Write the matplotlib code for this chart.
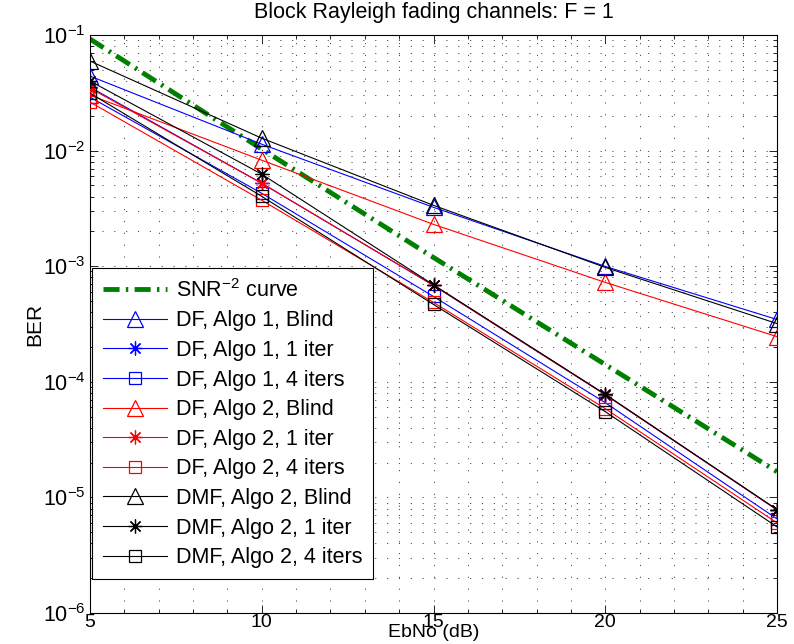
import numpy as np
import matplotlib
matplotlib.use("Agg")
import matplotlib.pyplot as plt
from matplotlib.ticker import LogLocator, MultipleLocator, NullFormatter

plt.rcParams['font.family'] = ['Liberation Sans', 'DejaVu Sans']
plt.rcParams['mathtext.fontset'] = 'custom'
plt.rcParams['mathtext.rm'] = 'Liberation Sans'
plt.rcParams['mathtext.it'] = 'Liberation Sans:italic'
plt.rcParams['mathtext.bf'] = 'Liberation Sans:bold'

# ---------------- data ----------------
ebno = [5, 10, 15, 20, 25]

snr_curve = [0.0923, 0.0103, 0.00119, 1.41e-4, 1.67e-5]

df1_blind = [0.0441, 0.01136, 0.00323, 9.96e-4, 3.46e-4]
df1_1iter = [0.0354, 0.00522, 6.82e-4, 7.74e-5, 7.81e-6]
df1_4iter = [0.0290, 0.00427, 5.47e-4, 6.60e-5, 6.52e-6]

df2_blind = [0.0302, 0.00826, 0.00230, 7.24e-4, 2.46e-4]
df2_1iter = [0.0347, 0.00522, 6.82e-4, 7.74e-5, 7.81e-6]
df2_4iter = [0.0263, 0.00372, 4.86e-4, 5.86e-5, 6.02e-6]

dmf_blind = [0.0595, 0.0128, 0.00336, 9.76e-4, 3.19e-4]
dmf_1iter = [0.0400, 0.00625, 6.90e-4, 7.80e-5, 7.85e-6]
dmf_4iter = [0.0314, 0.00402, 4.67e-4, 5.52e-5, 5.56e-6]

labels = ['DF, Algo 1, Blind', 'DF, Algo 1, 1 iter', 'DF, Algo 1, 4 iters',
          'DF, Algo 2, Blind', 'DF, Algo 2, 1 iter', 'DF, Algo 2, 4 iters',
          'DMF, Algo 2, Blind', 'DMF, Algo 2, 1 iter', 'DMF, Algo 2, 4 iters']
series = [df1_blind, df1_1iter, df1_4iter,
          df2_blind, df2_1iter, df2_4iter,
          dmf_blind, dmf_1iter, dmf_4iter]
colors = ['#0000ff'] * 3 + ['#ff0000'] * 3 + ['#000000'] * 3
star = (8, 2, 0)
markers = ['^', star, 's'] * 3
msizes = [11, 10, 8] * 3

# ---------------- figure ----------------
fig = plt.figure(figsize=(7.94, 6.44), dpi=100)
ax = fig.add_axes([90 / 794, 1 - 613 / 644, 687 / 794, 578 / 644])

ax.plot(ebno, snr_curve, color='#008000', lw=3.5,
        linestyle=(0, (3.3, 1.3, 0.5, 1.3)),
        label=r'SNR$^{-2}$ curve', zorder=2)
for y, lab, c, m, ms in zip(series, labels, colors, markers, msizes):
    ax.plot(ebno, y, color=c, lw=0.8, marker=m, markersize=ms,
            markerfacecolor='none', markeredgecolor=c, markeredgewidth=0.9,
            label=lab, zorder=3)

ax.set_yscale('log')
ax.set_xlim(5, 25)
ax.set_ylim(1e-6, 1e-1)
ax.xaxis.set_major_locator(MultipleLocator(5))
ax.xaxis.set_minor_locator(MultipleLocator(1))
ax.yaxis.set_major_locator(LogLocator(base=10, numticks=10))
ax.yaxis.set_minor_locator(LogLocator(base=10, subs=np.arange(2, 10), numticks=20))
ax.yaxis.set_minor_formatter(NullFormatter())

ax.tick_params(which='both', direction='in', top=True, right=True,
               colors='k', width=0.6)
ax.tick_params(axis='x', labelsize=14)
ax.tick_params(axis='y', labelsize=15.5)
ax.tick_params(which='major', length=6)
ax.tick_params(which='minor', length=3)
ax.tick_params(axis='x', which='major', pad=1)
ax.tick_params(axis='y', which='major', pad=3)

grid_style = dict(color='0.3', linewidth=0.7, linestyle=(0, (1.2, 11)))
ax.grid(True, which='major', **grid_style)
ax.grid(True, which='minor', **grid_style)
ax.set_axisbelow(True)
for s in ax.spines.values():
    s.set_linewidth(0.8)

ax.set_title('Block Rayleigh fading channels: F = 1', fontsize=15.5, pad=12)
ax.set_xlabel('EbNo (dB)', fontsize=14, labelpad=-5)
ax.set_ylabel('BER', fontsize=15, labelpad=-1)

leg = ax.legend(loc='lower left', bbox_to_anchor=(2 / 687, 34 / 578),
                borderaxespad=0, fontsize=15.5, handlelength=3.0,
                handletextpad=0.4, labelspacing=0.40, borderpad=0.5,
                fancybox=False, framealpha=1, edgecolor='k')
leg.get_frame().set_linewidth(0.8)

fig.savefig('out.png', dpi=100)
